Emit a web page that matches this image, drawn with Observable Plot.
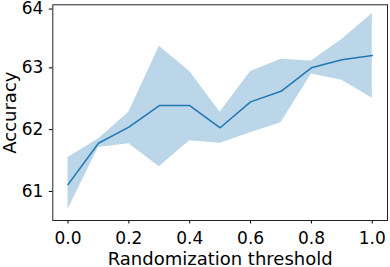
<!DOCTYPE html>
<html>
<head>
<meta charset="utf-8">
<script src="https://cdn.jsdelivr.net/npm/d3@7"></script>
<script src="https://cdn.jsdelivr.net/npm/@observablehq/plot@0.6"></script>
<style>
  html, body { margin: 0; padding: 0; background: #fff; }
  svg { display: block; }
</style>
</head>
<body>
<div id="chart"></div>
<script>
const thresholds = [0.0, 0.1, 0.2, 0.3, 0.4, 0.5, 0.6, 0.7, 0.8, 0.9, 1.0];
const meanAcc  = [61.11, 61.78, 62.04, 62.39, 62.39, 62.03, 62.45, 62.62, 63.00, 63.13, 63.20];
const lowerAcc = [60.71, 61.71, 61.77, 61.40, 61.82, 61.78, 61.95, 62.11, 62.90, 62.80, 62.51];
const upperAcc = [61.55, 61.85, 62.28, 63.35, 62.94, 62.28, 62.94, 63.14, 63.11, 63.46, 63.88];
const xTicks = [0.0, 0.2, 0.4, 0.6, 0.8, 1.0];
const yTicks = [61, 62, 63];
const yTopTick = [64];

const data = thresholds.map((t, i) => ({t, mean: meanAcc[i], lo: lowerAcc[i], hi: upperAcc[i]}));

const chart = Plot.plot({
  width: 390,
  height: 267,
  marginLeft: 52.3,
  marginRight: 3,
  marginTop: 4.3,
  marginBottom: 47,
  style: {fontFamily: "DejaVu Sans", fontSize: "17px", color: "#000", background: "#fff"},
  x: {domain: [-0.05, 1.05]},
  y: {domain: [60.53, 64.02]},
  marks: [
    Plot.areaY(data, {x: "t", y1: "lo", y2: "hi", fill: "#1f77b4", fillOpacity: 0.3}),
    Plot.lineY(data, {x: "t", y: "mean", stroke: "#1f77b4", strokeWidth: 1.5}),
    Plot.frame({stroke: "#222", strokeWidth: 1}),
    Plot.axisX({ticks: xTicks, tickFormat: d3.format(".1f"), tickSize: 3.5, tickPadding: 7.5,
      fontSize: 17, label: null}),
    Plot.axisX({ticks: [], label: "Randomization threshold", labelAnchor: "center", labelArrow: "none",
      labelOffset: 44, fontSize: 18}),
    Plot.axisY({ticks: yTicks, tickFormat: d3.format("d"), tickSize: 3.5, tickPadding: 6,
      fontSize: 17, label: null}),
    Plot.axisY({ticks: yTopTick, tickFormat: d3.format("d"), tickSize: 3.5, tickPadding: 6,
      fontSize: 17, dy: 3, label: null}),
    Plot.axisY({ticks: [], label: "Accuracy", labelAnchor: "center", labelArrow: "none",
      labelOffset: 50, fontSize: 18})
  ]
});
document.getElementById("chart").appendChild(chart);
</script>
</body>
</html>
